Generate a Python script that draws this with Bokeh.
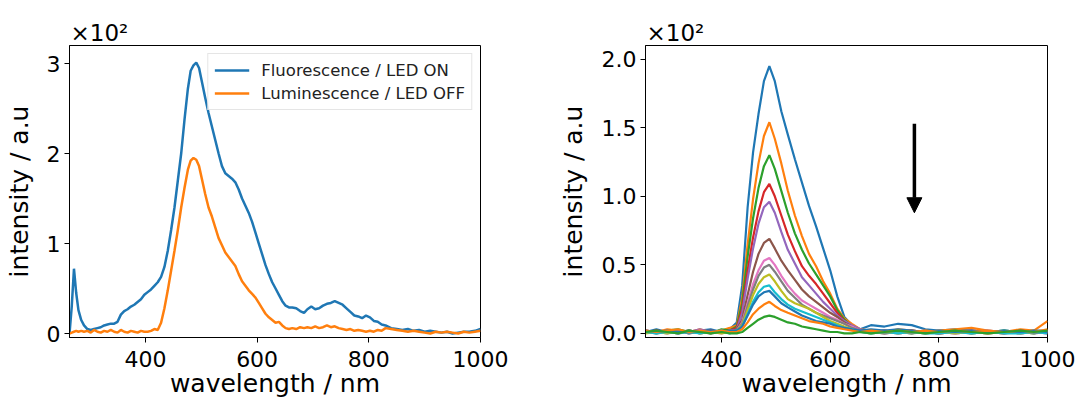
from bokeh.plotting import figure
from bokeh.layouts import row
from bokeh.models import (FixedTicker, NumeralTickFormatter, Title, Arrow, NormalHead,
                          Legend, LegendItem, Range1d)
from bokeh.embed import file_html
from bokeh.resources import INLINE

FONT = "DejaVu Sans"
TAB10 = ["#1f77b4", "#ff7f0e", "#2ca02c", "#d62728", "#9467bd",
         "#8c564b", "#e377c2", "#7f7f7f", "#bcbd22", "#17becf"]

# ---------------- left panel data (intensity in units of 10^2) ----------------
WL_LEFT = [264, 268, 272, 276, 280, 285, 290, 296, 302, 308, 314, 320, 326, 332, 338, 344,
           350, 356, 362, 368, 374, 380, 386, 392, 398, 404, 410, 416, 422, 428, 434, 440,
           446, 452, 458, 464, 470, 476, 481, 486, 491, 496, 501, 507, 513, 519, 525, 531,
           537, 543, 549, 555, 561, 567, 573, 579, 585, 591, 597, 603, 609, 615, 621, 627,
           633, 639, 645, 651, 657, 663, 670, 677, 684, 690, 697, 704, 711, 718, 725, 732,
           739, 746, 753, 760, 767, 774, 781, 788, 795, 802, 809, 816, 823, 830, 840, 850,
           860, 870, 880, 890, 900, 910, 920, 930, 940, 950, 960, 970, 980, 990, 1000]
FLUOR = [0.00, 0.30, 0.72, 0.45, 0.26, 0.15, 0.09, 0.05, 0.04, 0.05, 0.06, 0.07, 0.09, 0.10, 0.11, 0.11,
         0.13, 0.21, 0.25, 0.27, 0.30, 0.32, 0.35, 0.38, 0.43, 0.46, 0.49, 0.53, 0.57, 0.63, 0.74, 0.92,
         1.15, 1.40, 1.70, 2.00, 2.38, 2.72, 2.92, 2.98, 3.01, 2.95, 2.80, 2.62, 2.45, 2.30, 2.15, 2.00,
         1.86, 1.78, 1.75, 1.72, 1.68, 1.60, 1.50, 1.42, 1.34, 1.24, 1.12, 1.00, 0.88, 0.76, 0.66, 0.57,
         0.50, 0.43, 0.36, 0.31, 0.29, 0.29, 0.28, 0.25, 0.23, 0.27, 0.30, 0.27, 0.28, 0.31, 0.33, 0.34,
         0.36, 0.34, 0.32, 0.28, 0.24, 0.20, 0.19, 0.17, 0.20, 0.18, 0.14, 0.13, 0.10, 0.09, 0.06, 0.05,
         0.04, 0.05, 0.03, 0.04, 0.02, 0.03, 0.02, 0.01, 0.02, 0.00, 0.01, 0.02, 0.02, 0.03, 0.05]
LUMIN = [0.00, 0.01, 0.02, 0.03, 0.02, 0.03, 0.02, 0.03, 0.01, 0.04, 0.02, 0.01, 0.03, 0.02, 0.04, 0.02,
         0.01, 0.04, 0.02, 0.01, 0.03, 0.02, 0.01, 0.03, 0.02, 0.02, 0.03, 0.05, 0.04, 0.12, 0.28, 0.48,
         0.70, 0.92, 1.15, 1.40, 1.62, 1.82, 1.92, 1.95, 1.93, 1.86, 1.72, 1.55, 1.40, 1.30, 1.18, 1.06,
         0.98, 0.90, 0.85, 0.80, 0.75, 0.66, 0.58, 0.53, 0.48, 0.44, 0.40, 0.34, 0.28, 0.22, 0.18, 0.15,
         0.12, 0.13, 0.09, 0.06, 0.05, 0.06, 0.05, 0.07, 0.06, 0.07, 0.06, 0.08, 0.06, 0.07, 0.09, 0.07,
         0.08, 0.06, 0.05, 0.04, 0.05, 0.03, 0.04, 0.03, 0.02, 0.03, 0.02, 0.04, 0.03, 0.06, 0.05, 0.04,
         0.03, 0.02, 0.03, 0.02, 0.01, 0.00, 0.02, 0.01, 0.02, 0.01, 0.00, 0.02, 0.01, 0.02, 0.03]
LEFT_LABELS = ["Fluorescence / LED ON", "Luminescence / LED OFF"]

# ---------------- right panel data (13 successive spectra, units of 10^2) ----------------
WL_RIGHT = [260, 280, 300, 320, 340, 360, 380, 400, 415,
            428, 438, 448, 458, 468, 478, 488, 498, 510, 522, 535, 548, 561, 574, 587, 600, 613, 626, 640,
            655, 675, 700, 725, 750, 775, 800, 830, 860, 890, 920, 950, 975, 1000]
S1 = [0.01, 0.03, 0.01, 0.02, 0.00, 0.02, 0.03, 0.01, 0.03,
      0.08, 0.35, 0.92, 1.32, 1.60, 1.84, 1.95, 1.84, 1.62, 1.45, 1.27, 1.10, 0.93, 0.78, 0.62, 0.46, 0.27, 0.12, 0.06,
      0.03, 0.06, 0.05, 0.07, 0.06, 0.03, 0.02, 0.03, 0.02, 0.01, 0.02, 0.01, 0.02, 0.02]
S2 = [0.02, 0.01, 0.03, 0.02, 0.01, 0.03, 0.01, 0.02, 0.04,
      0.06, 0.26, 0.65, 0.98, 1.24, 1.44, 1.54, 1.42, 1.24, 1.04, 0.86, 0.71, 0.58, 0.49, 0.38, 0.29, 0.18, 0.11, 0.07,
      0.03, 0.02, 0.01, 0.03, 0.02, 0.01, 0.02, 0.03, 0.04, 0.02, 0.01, 0.03, 0.02, 0.09]
S3 = [0.02, 0.00, 0.02, 0.03, 0.01, 0.02, 0.00, 0.03, 0.02,
      0.05, 0.22, 0.56, 0.84, 1.06, 1.22, 1.30, 1.20, 1.04, 0.88, 0.73, 0.61, 0.51, 0.43, 0.35, 0.27, 0.17, 0.10, 0.05,
      0.02, 0.01, 0.02, 0.01, 0.00, 0.02, 0.01, 0.02, 0.00, 0.01, 0.02, 0.01, 0.00, 0.02]
S4 = [0.01, 0.02, 0.01, 0.00, 0.02, 0.01, 0.02, 0.01, 0.02,
      0.04, 0.18, 0.46, 0.70, 0.89, 1.03, 1.09, 1.00, 0.86, 0.72, 0.60, 0.49, 0.42, 0.36, 0.29, 0.22, 0.15, 0.09, 0.05,
      0.02, 0.01, 0.02, 0.01, 0.02, 0.01, 0.00, 0.01, 0.02, 0.01, 0.00, 0.02, 0.01, 0.01]
S5 = [0.02, 0.01, 0.00, 0.02, 0.01, 0.03, 0.01, 0.02, 0.01,
      0.03, 0.15, 0.40, 0.62, 0.80, 0.92, 0.96, 0.88, 0.74, 0.61, 0.51, 0.41, 0.35, 0.29, 0.23, 0.18, 0.13, 0.09, 0.06,
      0.03, 0.01, 0.02, 0.00, 0.01, 0.02, 0.01, 0.00, 0.01, 0.02, 0.01, 0.00, 0.01, 0.02]
S6 = [0.01, 0.02, 0.01, 0.01, 0.02, 0.00, 0.01, 0.02, 0.01,
      0.03, 0.10, 0.28, 0.45, 0.58, 0.66, 0.69, 0.62, 0.53, 0.46, 0.39, 0.32, 0.27, 0.23, 0.19, 0.15, 0.12, 0.08, 0.05,
      0.02, 0.01, 0.00, 0.01, 0.02, 0.01, 0.00, 0.01, 0.01, 0.00, 0.01, 0.02, 0.01, 0.00]
S7 = [0.02, 0.01, 0.02, 0.00, 0.01, 0.02, 0.01, 0.00, 0.02,
      0.02, 0.08, 0.22, 0.36, 0.46, 0.53, 0.55, 0.50, 0.42, 0.35, 0.29, 0.24, 0.21, 0.18, 0.15, 0.12, 0.10, 0.07, 0.05,
      0.02, 0.01, 0.01, 0.00, 0.01, 0.00, 0.01, 0.00, 0.01, 0.00, 0.01, 0.00, 0.01, 0.00]
S8 = [0.01, 0.00, 0.01, 0.02, 0.00, 0.01, 0.00, 0.01, 0.01,
      0.02, 0.07, 0.20, 0.32, 0.42, 0.48, 0.50, 0.45, 0.38, 0.31, 0.26, 0.21, 0.18, 0.15, 0.13, 0.11, 0.09, 0.07, 0.04,
      0.02, 0.01, 0.00, 0.01, 0.00, 0.01, 0.00, 0.01, 0.00, 0.01, 0.00, 0.01, 0.00, 0.01]
S9 = [0.00, 0.01, 0.00, 0.01, 0.02, 0.00, 0.01, 0.00, 0.01,
      0.02, 0.06, 0.17, 0.28, 0.36, 0.41, 0.43, 0.38, 0.31, 0.25, 0.22, 0.20, 0.18, 0.15, 0.12, 0.09, 0.07, 0.05, 0.03,
      0.01, 0.00, 0.01, 0.00, 0.01, 0.00, 0.01, 0.00, 0.01, 0.00, 0.01, 0.00, 0.01, 0.02]
S10 = [0.01, 0.00, 0.01, 0.00, 0.01, 0.00, 0.01, 0.02, 0.00,
       0.02, 0.05, 0.14, 0.23, 0.30, 0.34, 0.35, 0.30, 0.25, 0.21, 0.18, 0.16, 0.14, 0.12, 0.10, 0.08, 0.06, 0.04, 0.03,
       0.01, 0.00, 0.01, 0.00, 0.01, 0.00, 0.00, 0.01, 0.00, 0.01, 0.00, 0.00, 0.01, 0.00]
S11 = [0.02, 0.01, 0.02, 0.01, 0.02, 0.01, 0.02, 0.01, 0.02,
       0.02, 0.05, 0.13, 0.21, 0.27, 0.30, 0.31, 0.27, 0.22, 0.19, 0.16, 0.13, 0.11, 0.09, 0.08, 0.07, 0.05, 0.04, 0.03,
       0.02, 0.03, 0.02, 0.03, 0.02, 0.01, 0.02, 0.01, 0.02, 0.01, 0.02, 0.01, 0.02, 0.01]
S12 = [0.02, 0.01, 0.02, 0.03, 0.01, 0.02, 0.01, 0.02, 0.01,
       0.01, 0.03, 0.08, 0.14, 0.18, 0.21, 0.23, 0.20, 0.17, 0.15, 0.13, 0.11, 0.09, 0.08, 0.07, 0.05, 0.04, 0.03, 0.02,
       0.01, 0.02, 0.01, 0.02, 0.01, 0.02, 0.01, 0.02, 0.01, 0.02, 0.01, 0.02, 0.01, 0.03]
S13 = [0.01, 0.02, 0.01, 0.00, 0.02, 0.01, 0.00, 0.01, 0.00,
       0.00, 0.01, 0.04, 0.07, 0.10, 0.12, 0.13, 0.12, 0.10, 0.08, 0.07, 0.05, 0.04, 0.03, 0.02, 0.01, 0.01, 0.00, 0.00,
       0.01, 0.00, 0.01, 0.02, 0.01, 0.00, 0.01, 0.02, 0.01, 0.00, 0.01, 0.02, 0.01, 0.02]
RIGHT_SERIES = [S1, S2, S3, S4, S5, S6, S7, S8, S9, S10, S11, S12, S13]

X_TICKS = [400, 600, 800, 1000]
Y_TICKS_LEFT = [0, 1, 2, 3]
Y_TICKS_RIGHT = [0.0, 0.5, 1.0, 1.5, 2.0]
X_LABEL = "wavelength / nm"
Y_LABEL = "intensity / a.u"
SCALE_TEXT = "×10²"

# arrow (data coords of right panel)
ARROW_X = 755
ARROW_Y_START = 1.53
ARROW_Y_END = 0.88


def style(p, yticks, ylabel_standoff):
    p.outline_line_color = "black"
    p.outline_line_width = 1
    p.outline_line_alpha = 1
    p.grid.visible = False
    p.background_fill_color = "white"
    p.border_fill_color = "white"
    for ax in (p.xaxis[0], p.yaxis[0]):
        ax.axis_line_color = "black"
        ax.major_tick_line_color = "black"
        ax.major_tick_out = 5
        ax.major_tick_in = 0
        ax.minor_tick_out = 0
        ax.minor_tick_in = 0
        ax.major_label_text_font = FONT
        ax.major_label_text_font_size = "22px"
        ax.major_label_text_color = "black"
        ax.axis_label_text_font = FONT
        ax.axis_label_text_font_size = "25px"
        ax.axis_label_text_font_style = "normal"
        ax.axis_label_text_color = "black"
        ax.major_label_standoff = 4
    p.xaxis[0].major_label_standoff = 8
    p.xaxis[0].ticker = FixedTicker(ticks=X_TICKS, minor_ticks=[])
    p.yaxis[0].ticker = FixedTicker(ticks=yticks, minor_ticks=[])
    p.xaxis[0].axis_label = X_LABEL
    p.yaxis[0].axis_label = Y_LABEL
    p.xaxis[0].axis_label_standoff = -1
    p.yaxis[0].axis_label_standoff = ylabel_standoff
    p.add_layout(Title(text=SCALE_TEXT, align="left", offset=1, standoff=0,
                       text_font=FONT, text_font_size="23px", text_font_style="normal",
                       text_color="black"), "above")


# ---------------- left figure ----------------
p1 = figure(width=550, height=400, output_backend="svg", toolbar_location=None,
            x_range=Range1d(264, 1000), y_range=Range1d(-0.044, 3.2),
            min_border_left=69, min_border_right=70, min_border_top=45, min_border_bottom=63)
style(p1, Y_TICKS_LEFT, 10)
r1 = p1.line(WL_LEFT, FLUOR, line_color=TAB10[0], line_width=2.5)
r2 = p1.line(WL_LEFT, LUMIN, line_color=TAB10[1], line_width=2.5)
legend = Legend(items=[LegendItem(label=LEFT_LABELS[0], renderers=[r1]),
                       LegendItem(label=LEFT_LABELS[1], renderers=[r2])],
                location="top_right")
legend.margin = 8
legend.padding = 6
legend.spacing = 3
legend.glyph_width = 35
legend.glyph_height = 20
legend.label_height = 20
legend.label_standoff = 12
legend.label_text_font = FONT
legend.label_text_font_size = "16.5px"
legend.label_text_color = "#222222"
legend.border_line_color = "#cccccc"
legend.border_line_width = 1
legend.background_fill_alpha = 0.8
p1.add_layout(legend)

# ---------------- right figure ----------------
p2 = figure(width=536, height=400, output_backend="svg", toolbar_location=None,
            x_range=Range1d(260, 1000), y_range=Range1d(-0.03, 2.10),
            min_border_left=95, min_border_right=39, min_border_top=45, min_border_bottom=63)
style(p2, Y_TICKS_RIGHT, 11)
p2.yaxis[0].formatter = NumeralTickFormatter(format="0.0")
for i, s in enumerate(RIGHT_SERIES):
    p2.line(WL_RIGHT, s, line_color=TAB10[i % 10], line_width=2.2)
p2.add_layout(Arrow(end=NormalHead(size=15, fill_color="black", line_color="black"),
                    x_start=ARROW_X, y_start=ARROW_Y_START, x_end=ARROW_X, y_end=ARROW_Y_END,
                    line_width=3.5, line_color="black"))

layout = row(p1, p2)
open("out.html", "w").write(file_html(layout, INLINE))
